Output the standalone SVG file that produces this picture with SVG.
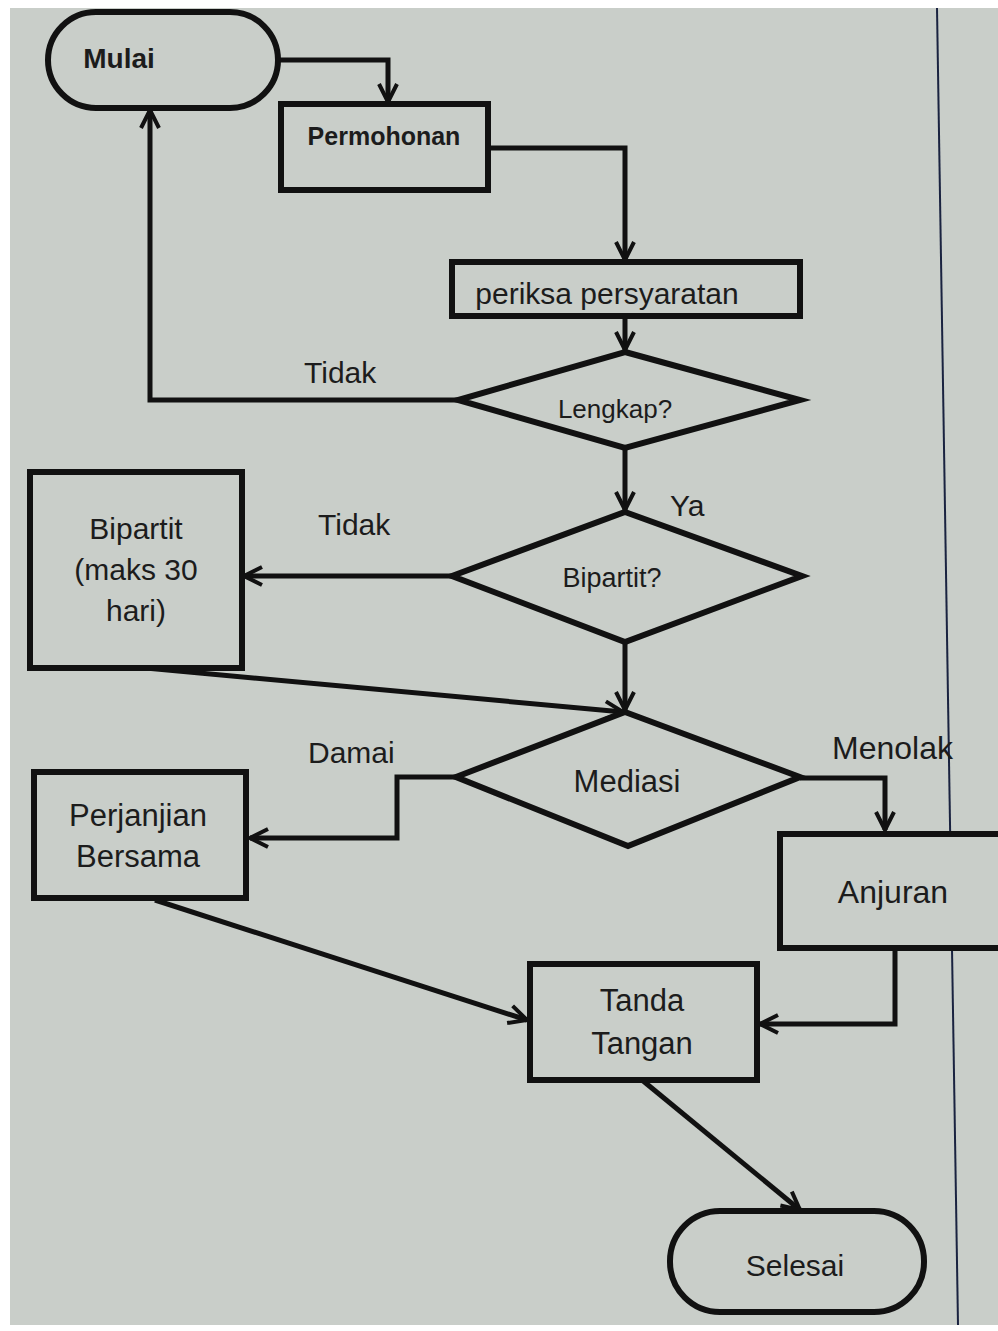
<svg xmlns="http://www.w3.org/2000/svg" width="998" height="1331" viewBox="0 0 998 1331">
<defs>
<style>
.shape{fill:#c9cec9;stroke:#111;stroke-width:6}
.con{fill:none;stroke:#111;stroke-width:5;stroke-linejoin:miter}
.t{font-family:"Liberation Sans",Arial,sans-serif;fill:#1c1c1c;text-anchor:middle}
.lbl{font-family:"Liberation Sans",Arial,sans-serif;fill:#1c1c1c;font-size:30px}
</style>
<marker id="arr" viewBox="0 0 22 22" refX="20" refY="11" markerWidth="22" markerHeight="22" markerUnits="userSpaceOnUse" orient="auto">
<path d="M2,2 L20,11 L2,20" fill="none" stroke="#111" stroke-width="4"/>
</marker>
</defs>
<rect x="0" y="0" width="998" height="1331" fill="#ffffff"/>
<rect x="10" y="8" width="988" height="1317" fill="#c9cec9"/>
<line x1="937" y1="8" x2="958" y2="1325" stroke="#1a2340" stroke-width="2"/>

<g id="connectors">
<path class="con" d="M278,60 H388 V102" marker-end="url(#arr)"/>
<path class="con" d="M488,148 H625 V260" marker-end="url(#arr)"/>
<path class="con" d="M625,316 V350" marker-end="url(#arr)"/>
<path class="con" d="M458,400 H150 V110" marker-end="url(#arr)"/>
<path class="con" d="M625,448 V510" marker-end="url(#arr)"/>
<path class="con" d="M452,576 H244" marker-end="url(#arr)"/>
<path class="con" d="M625,642 V710" marker-end="url(#arr)"/>
<path class="con" d="M135,667 L623,712" marker-end="url(#arr)"/>
<path class="con" d="M456,777 H397 V838 H250" marker-end="url(#arr)"/>
<path class="con" d="M800,778 H885 V830" marker-end="url(#arr)"/>
<path class="con" d="M895,948 V1024 H760" marker-end="url(#arr)"/>
<path class="con" d="M155,900 L527,1020" marker-end="url(#arr)"/>
<path class="con" d="M642,1080 L800,1210" marker-end="url(#arr)"/>
</g>

<g id="mulai">
<rect class="shape" x="48" y="12" width="230" height="96" rx="48" ry="48"/>
<text class="t" x="119" y="68" font-size="28" font-weight="bold">Mulai</text>
</g>
<g id="permohonan">
<rect class="shape" x="281" y="104" width="207" height="86"/>
<text class="t" x="384" y="145" font-size="25" font-weight="bold">Permohonan</text>
</g>
<g id="periksa">
<rect class="shape" x="452" y="262" width="348" height="54"/>
<text class="t" x="607" y="304" font-size="30">periksa persyaratan</text>
</g>
<g id="lengkap">
<polygon class="shape" points="625,352 800,400 625,448 458,400"/>
<text class="t" x="615" y="418" font-size="26">Lengkap?</text>
</g>
<g id="bipartit-q">
<polygon class="shape" points="625,512 802,576 625,642 452,576"/>
<text class="t" x="612" y="587" font-size="27">Bipartit?</text>
</g>
<g id="bipartit-box">
<rect class="shape" x="30" y="472" width="212" height="196"/>
<text class="t" x="136" y="539" font-size="30">Bipartit</text>
<text class="t" x="136" y="580" font-size="30">(maks 30</text>
<text class="t" x="136" y="621" font-size="30">hari)</text>
</g>
<g id="mediasi">
<polygon class="shape" points="625,712 800,777 628,846 456,777"/>
<text class="t" x="627" y="792" font-size="31">Mediasi</text>
</g>
<g id="perjanjian">
<rect class="shape" x="34" y="772" width="212" height="126"/>
<text class="t" x="138" y="826" font-size="31">Perjanjian</text>
<text class="t" x="138" y="867" font-size="31">Bersama</text>
</g>
<g id="anjuran">
<rect class="shape" x="780" y="834" width="230" height="114"/>
<text class="t" x="893" y="903" font-size="32">Anjuran</text>
</g>
<g id="tanda">
<rect class="shape" x="530" y="964" width="227" height="116"/>
<text class="t" x="642" y="1011" font-size="31">Tanda</text>
<text class="t" x="642" y="1054" font-size="31">Tangan</text>
</g>
<g id="selesai">
<rect class="shape" x="670" y="1211" width="254" height="101" rx="50" ry="50"/>
<text class="t" x="795" y="1276" font-size="30" fill="#444">Selesai</text>
</g>

<g id="labels">
<text class="lbl" x="304" y="383" font-size="28">Tidak</text>
<text class="lbl" x="670" y="516">Ya</text>
<text class="lbl" x="318" y="535">Tidak</text>
<text class="lbl" x="308" y="763">Damai</text>
<text class="lbl" x="832" y="759" style="font-size:32px">Menolak</text>
</g>
</svg>
